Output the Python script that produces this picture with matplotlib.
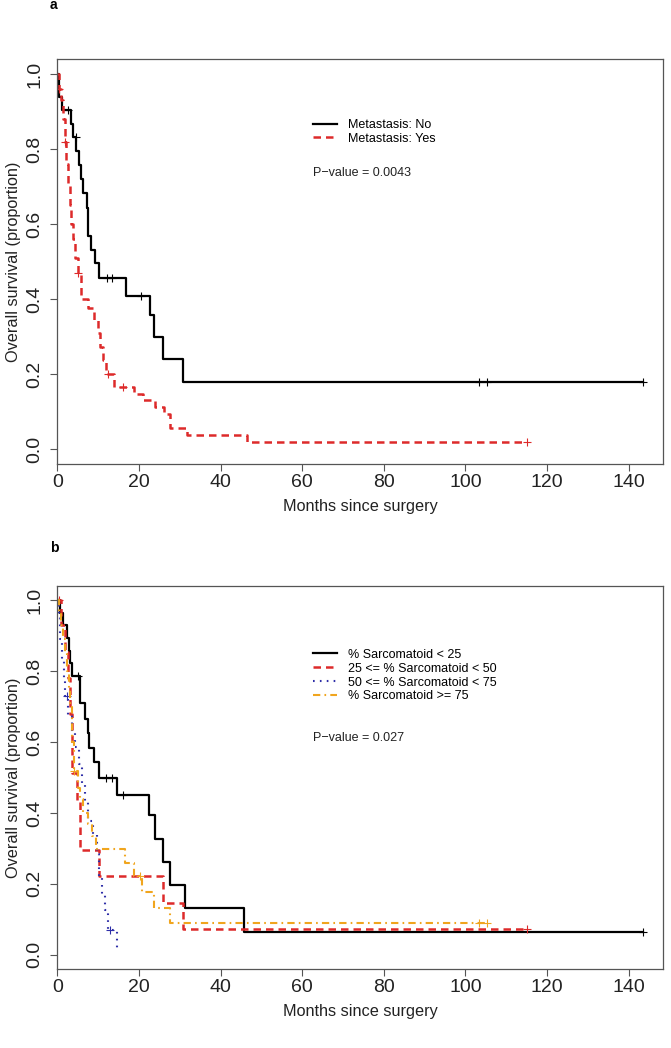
import numpy as np
import matplotlib
matplotlib.use('Agg')
import matplotlib.pyplot as plt

plt.rcParams['font.family'] = ['Liberation Sans', 'DejaVu Sans']

# ------- Panel a: metastasis -------
a_no_t = [0, 0.3, 1.1, 3.4, 3.9, 4.6, 5.2, 5.8, 6.4, 7.2, 7.6, 8.3, 9.2, 10.1, 16.8, 22.7, 23.8, 26.0, 30.9]
a_no_s = [1.0, 0.939, 0.904, 0.868, 0.833, 0.795, 0.757, 0.719, 0.683, 0.643, 0.568, 0.531, 0.495, 0.455,
          0.408, 0.357, 0.298, 0.239, 0.179]
a_no_cens = [2.5, 4.5, 12.1, 13.5, 20.5, 103.4, 105.4, 143.5]

a_yes_t = [0, 0.5, 1.0, 1.4, 1.8, 2.2, 2.6, 3.0, 3.4, 3.8, 4.3, 5.0, 5.8, 7.6, 9.1, 9.9, 10.5, 11.3, 12.0,
           14.0, 18.8, 21.0, 24.0, 26.2, 27.5, 31.8, 46.5]
a_yes_s = [1.0, 0.96, 0.93, 0.88, 0.82, 0.76, 0.71, 0.65, 0.60, 0.56, 0.51, 0.47, 0.40, 0.376, 0.345, 0.31,
           0.273, 0.237, 0.20, 0.166, 0.148, 0.13, 0.112, 0.093, 0.056, 0.037, 0.018]
a_yes_cens = [0.5, 2.0, 5.0, 12.5, 16.2, 115.2]

# ------- Panel b: % sarcomatoid -------
b_lt25_t = [0, 0.7, 1.5, 2.4, 2.9, 3.2, 3.5, 5.6, 6.8, 7.4, 7.8, 9.0, 10.3, 14.6, 22.5, 24.0, 25.8, 27.5, 31.4, 45.7]
b_lt25_s = [1.0, 0.965, 0.93, 0.893, 0.858, 0.822, 0.787, 0.709, 0.665, 0.625, 0.583, 0.543, 0.5, 0.45,
            0.394, 0.327, 0.261, 0.196, 0.131, 0.065]
b_lt25_cens = [5.0, 12.0, 13.4, 16.0, 143.5]

b_25_50_t = [0, 1.0, 2.0, 2.5, 3.0, 3.5, 4.8, 5.6, 10.1, 26.0, 30.9]
b_25_50_s = [1.0, 0.93, 0.855, 0.78, 0.68, 0.513, 0.434, 0.296, 0.221, 0.147, 0.073]
b_25_50_cens = [0.5, 115.2]

b_50_75_t = [0, 0.3, 0.7, 1.1, 1.6, 2.0, 2.7, 3.5, 4.3, 5.2, 6.0, 6.8, 7.6, 8.8, 9.7, 10.2, 10.9, 11.7,
             12.4, 14.6]
b_50_75_s = [1.0, 0.95, 0.89, 0.83, 0.78, 0.73, 0.676, 0.629, 0.587, 0.537, 0.481, 0.43, 0.378, 0.34,
             0.285, 0.22, 0.172, 0.126, 0.07, 0.02]
b_50_75_cens = [2.3, 12.9]

b_ge75_t = [0, 0.5, 1.0, 1.5, 2.0, 2.3, 2.8, 3.2, 3.6, 4.0, 5.0, 5.6, 6.4, 7.4, 8.4, 9.5, 16.6, 18.7, 20.8,
            23.8, 27.5]
b_ge75_s = [1.0, 0.96, 0.93, 0.89, 0.85, 0.80, 0.75, 0.70, 0.60, 0.518, 0.47, 0.44, 0.40, 0.37, 0.335,
            0.297, 0.26, 0.222, 0.178, 0.133, 0.089]
b_ge75_cens = [4.2, 20.3, 103.4, 105.4]

black = 'black'
red = '#dd2a2a'
blue = '#2e2ea8'
orange = '#f0a51e'

W, H = 671, 1048
fig = plt.figure(figsize=(W / 100, H / 100), dpi=100)


def add_axes(top_px, bottom_px):
    left, right = 57.3, 663
    return fig.add_axes([left / W, 1 - bottom_px / H, (right - left) / W, (bottom_px - top_px) / H])


def km(ax, t, s, cens, color, ls, lw, label):
    t = np.asarray(t)
    s = np.asarray(s)
    end = max(cens[-1], t[-1]) if len(cens) else t[-1]
    if end > t[-1]:
        x = np.append(t, end)
        y = np.append(s, s[-1])
    else:
        x, y = t, s
    ax.step(x, y, where='post', color=color, linestyle=ls, lw=lw, label=label)
    idx = np.searchsorted(t, cens, side='right') - 1
    ax.plot(cens, s[idx], linestyle='none', marker='+', ms=6, mew=0.8, color=color)


def style(ax):
    ax.set_xlim(0, 148.4)
    ax.set_ylim(-0.04, 1.04)
    ax.set_xticks(np.arange(0, 141, 20))
    ax.set_yticks(np.arange(0, 1.01, 0.2))
    ax.set_yticklabels(['0.0', '0.2', '0.4', '0.6', '0.8', '1.0'], rotation=90, va='center')
    ax.tick_params(axis='both', labelsize=14, length=5, width=0.8, color='#555555', labelcolor='#222222')
    ax.tick_params(axis='x', pad=2)
    ax.tick_params(axis='y', pad=5)
    for sp in ax.spines.values():
        sp.set_color('#555555')
        sp.set_linewidth(0.9)
    ax.set_xlabel('Months since surgery', fontsize=11.7, color='#222222', labelpad=6)
    ax.set_ylabel('Overall survival (proportion)', fontsize=11.7, color='#222222', labelpad=4)


# Panel a
ax1 = add_axes(59, 464)
km(ax1, a_no_t, a_no_s, a_no_cens, black, '-', 1.6, 'Metastasis: No')
km(ax1, a_yes_t, a_yes_s, a_yes_cens, red, (0, (3, 2)), 1.8, 'Metastasis: Yes')
style(ax1)
ax1.legend(loc='upper left', bbox_to_anchor=(0.422, 0.852), frameon=False, fontsize=9,
           handlelength=1.95, handletextpad=0.85, labelspacing=0.15, borderpad=0, borderaxespad=0)
ax1.text(0.422, 0.7185, 'P\u2212value = 0.0043', transform=ax1.transAxes, fontsize=9,
         va='center', ha='left', color='#222222')
fig.text(50 / W, 1 - 5 / H, 'a', fontsize=10, fontweight='bold', ha='left', va='center')

# Panel b
ax2 = add_axes(586, 969)
km(ax2, b_lt25_t, b_lt25_s, b_lt25_cens, black, '-', 1.6, '% Sarcomatoid < 25')
km(ax2, b_25_50_t, b_25_50_s, b_25_50_cens, red, (0, (3, 2)), 1.8, '25 <= % Sarcomatoid < 50')
km(ax2, b_50_75_t, b_50_75_s, b_50_75_cens, blue, (0, (0.8, 2.5)), 1.5, '50 <= % Sarcomatoid < 75')
km(ax2, b_ge75_t, b_ge75_s, b_ge75_cens, orange, (0, (3.5, 2, 0.8, 2)), 1.5, '% Sarcomatoid >= 75')
style(ax2)
ax2.legend(loc='upper left', bbox_to_anchor=(0.422, 0.836), frameon=False, fontsize=9,
           handlelength=1.95, handletextpad=0.85, labelspacing=0.15, borderpad=0, borderaxespad=0)
ax2.text(0.422, 0.604, 'P\u2212value = 0.027', transform=ax2.transAxes, fontsize=9,
         va='center', ha='left', color='#222222')
fig.text(50 / W, 1 - 548 / H, 'b', fontsize=10, fontweight='bold', ha='left', va='center')

fig.savefig('out.png', dpi=100)
